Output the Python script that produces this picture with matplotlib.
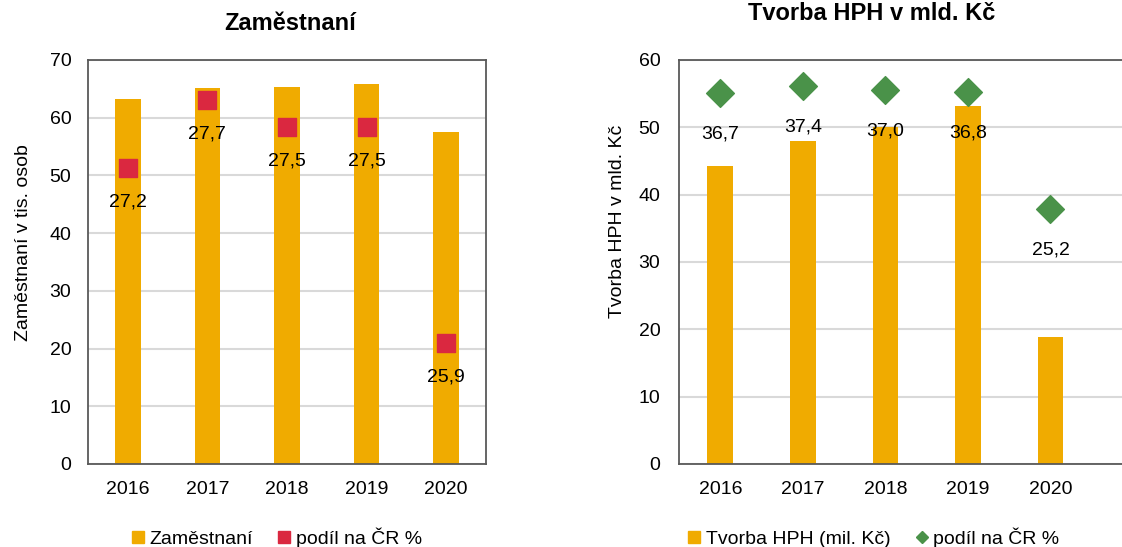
import matplotlib.pyplot as plt
from matplotlib.lines import Line2D

plt.rcParams['font.family'] = ['Liberation Sans', 'DejaVu Sans']

# data
roky = ['2016', '2017', '2018', '2019', '2020']
zamestnani = [63.3, 65.1, 65.4, 65.9, 57.5]
podil_zam = [27.2, 27.7, 27.5, 27.5, 25.9]
hph = [44.3, 47.9, 50.1, 53.2, 18.9]
podil_hph = [36.7, 37.4, 37.0, 36.8, 25.2]

ORANGE = '#F0AB00'
RED = '#DA2840'
GREEN = '#4A9249'
GRID = '#D9D9D9'
SPINE = '#595959'
FS = 14

W, H = 1122, 547
fig = plt.figure(figsize=(W / 100, H / 100), dpi=100)


def px_axes(x0, y0, x1, y1):
    return fig.add_axes([x0 / W, 1 - y1 / H, (x1 - x0) / W, (y1 - y0) / H])


def style(ax, ymax, step, ypad):
    ax.set_ylim(0, ymax)
    ax.set_yticks(range(0, ymax + 1, step))
    ax.grid(axis='y', color=GRID, lw=1.5)
    ax.set_axisbelow(True)
    ax.tick_params(length=0, labelsize=FS)
    ax.tick_params(axis='y', pad=ypad)
    ax.tick_params(axis='x', pad=12)
    for s in ax.spines.values():
        s.set_color(SPINE)
        s.set_linewidth(1.3)


def fmt(v):
    return f'{v:.1f}'.replace('.', ',')


x = list(range(len(roky)))

# --- left: Zaměstnaní
ax1 = px_axes(88, 60, 486, 464)
ax1.bar(x, zamestnani, width=0.32, color=ORANGE)
ax1.set_xlim(-0.5, 4.5)
ax1.set_xticks(x)
ax1.set_xticklabels(roky)
style(ax1, 70, 10, 12)
ax1.set_ylabel('Zaměstnaní v tis. osob', fontsize=FS)
ax1.yaxis.set_label_coords(-0.141, 0.547)
fig.text(290 / W, 1 - 23 / H, 'Zaměstnaní', fontsize=17,
         fontweight='bold', ha='center', va='center')

t1 = ax1.twinx()
t1.set_ylim(25, 28)
t1.scatter(x, podil_zam, marker='s', s=175, color=RED, zorder=3)
t1.axis('off')
for xi, v in zip(x, podil_zam):
    t1.annotate(fmt(v), (xi, v), xytext=(0, -24.5), textcoords='offset points',
                ha='center', va='center', fontsize=FS)

ax1.legend(handles=[Line2D([], [], ls='', marker='s', ms=8, color=ORANGE),
                    Line2D([], [], ls='', marker='s', ms=8, color=RED)],
           labels=['Zaměstnaní', 'podíl na ČR %'], ncol=2, frameon=False,
           fontsize=FS, handlelength=0.6, handletextpad=0.3, columnspacing=1.3,
           loc='center', bbox_to_anchor=(277 / W, 1 - 538 / H),
           bbox_transform=fig.transFigure)

# --- right: Tvorba HPH
ax2 = px_axes(679, 60, 1133, 464)
ax2.bar(x, hph, width=0.31, color=ORANGE)
ax2.set_xlim(-0.5, 5.0)
ax2.set_xticks(x)
ax2.set_xticklabels(roky)
style(ax2, 60, 10, 13.5)
ax2.set_ylabel('Tvorba HPH v mld. Kč', fontsize=FS)
ax2.yaxis.set_label_coords(-0.117, 0.60)
fig.text(872 / W, 1 - 14 / H, 'Tvorba HPH v mld. Kč', fontsize=17,
         fontweight='bold', ha='center', va='center')

t2 = ax2.twinx()
t2.set_ylim(0, 40)
t2.scatter(x, podil_hph, marker='D', s=200, color=GREEN, zorder=3)
t2.axis('off')
for xi, v in zip(x, podil_hph):
    t2.annotate(fmt(v), (xi, v), xytext=(0, -29), textcoords='offset points',
                ha='center', va='center', fontsize=FS)

ax2.legend(handles=[Line2D([], [], ls='', marker='s', ms=8, color=ORANGE),
                    Line2D([], [], ls='', marker='D', ms=6, color=GREEN)],
           labels=['Tvorba HPH (mil. Kč)', 'podíl na ČR %'], ncol=2, frameon=False,
           fontsize=FS, handlelength=0.6, handletextpad=0.3, columnspacing=1.3,
           loc='center', bbox_to_anchor=(874 / W, 1 - 538 / H),
           bbox_transform=fig.transFigure)

fig.savefig('out.png', dpi=100)
